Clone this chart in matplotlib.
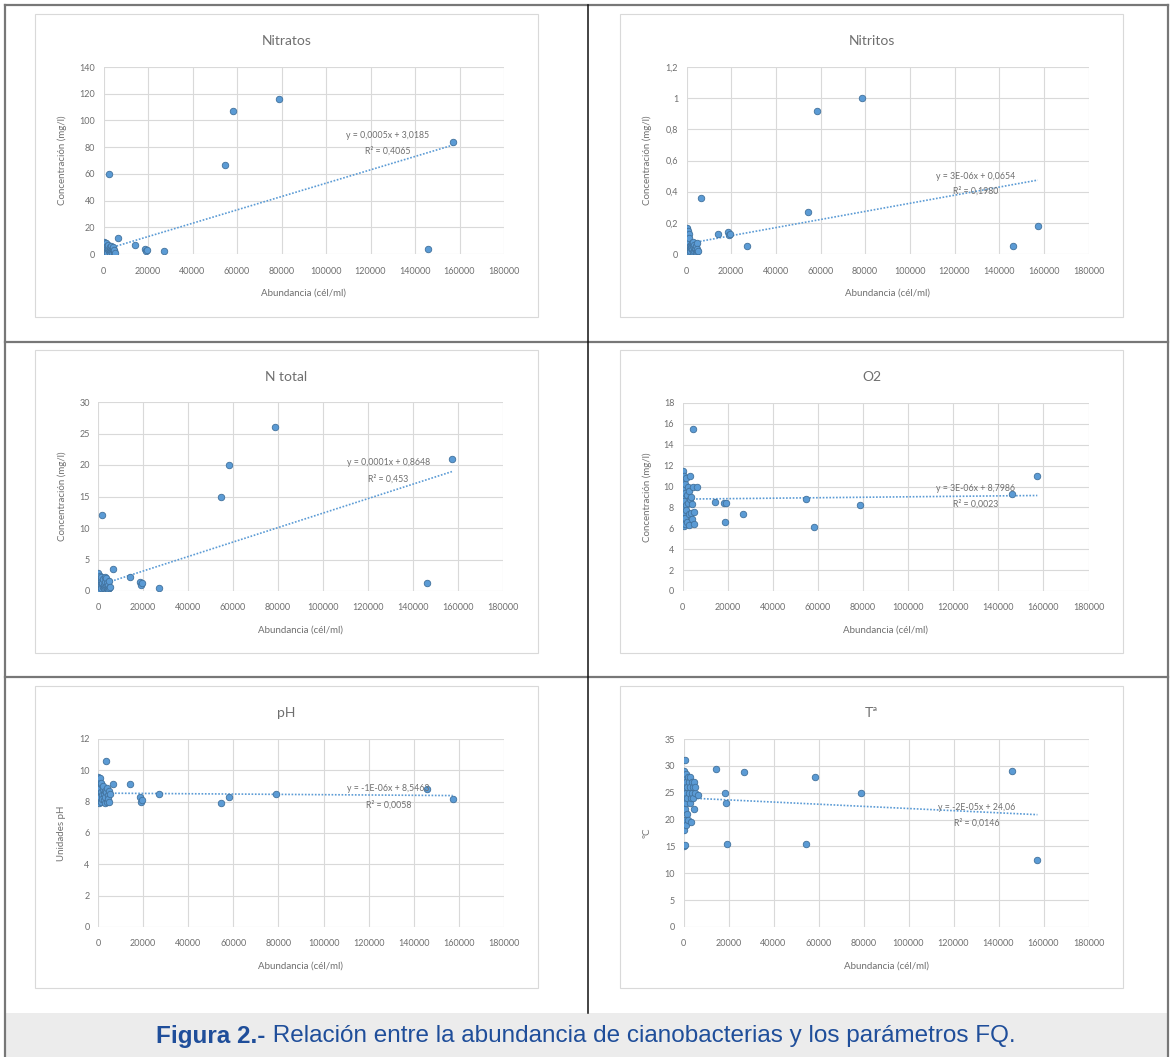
"""Figura 2: abundancia de cianobacterias frente a parámetros FQ (6 paneles)."""

import matplotlib.pyplot as plt
from matplotlib.patches import Rectangle
from matplotlib.lines import Line2D

W, H = 1171, 1057

# abundancia (cél/ml): núcleo de muestras bajas + muestras altas
ABUNDANCIA = [100, 150, 200, 250, 300, 400, 450, 500, 600, 700, 800, 900,
              1000, 1100, 1200, 1300, 1400, 1500, 1700, 1900, 2100, 2300, 2500, 2700,
              2900, 3100, 3300, 3500, 3700, 3900, 4100, 4300, 4500, 4700, 4900, 5200,
              6500, 14300, 18500, 19000, 19500, 27000, 54600, 58300, 78800, 146000, 157300]

NITRATOS = [3, 8, 1, 5, 2, 9, 0.5, 4, 7, 2, 6, 1, 3, 8, 0.5, 5, 2, 6, 1, 4, 7, 2, 60, 3,
            5, 0.5, 6, 2, 4, 1, 3, 5, 2, 1, 3, 1,
            12, 7, 4, 2, 3, 2, 67, 107, 116, 4, 84]
NITRITOS = [0.02, 0.16, 0.05, 0.12, 0.17, 0.09, 0.03, 0.15, 0.06, 0.11, 0.04, 0.13,
            0.07, 0.01, 0.08, 0.10, 0.03, 0.05, 0.02, 0.06, 0.04, 0.07, 0.03, 0.01,
            0.05, 0.08, 0.02, 0.06, 0.03, 0.04, 0.01, 0.05, 0.07, 0.02, 0.03, 0.02,
            0.36, 0.13, 0.14, 0.12, 0.13, 0.05, 0.27, 0.92, 1.0, 0.05, 0.18]
N_TOTAL = [0.5, 2.8, 1.0, 1.5, 0.3, 2.0, 0.8, 1.2, 0.4, 2.4, 1.8, 0.6, 1.1, 0.2, 1.6,
           0.9, 2.2, 0.5, 1.3, 12, 0.7, 1.9, 0.4, 1.0, 2.3, 0.6, 1.4, 0.8, 2.1, 0.5,
           1.2, 0.3, 0.9, 1.6, 0.4, 0.7,
           3.5, 2.2, 1.5, 1.0, 1.2, 0.5, 15, 20, 26, 1.2, 21]
O2 = [11.5, 6.5, 9.0, 7.2, 10.5, 8.0, 6.2, 9.8, 7.6, 11.0, 8.6, 6.8, 10.2, 7.0, 9.4,
      6.4, 8.2, 10.8, 7.8, 9.2, 6.6, 10.0, 8.4, 7.4, 9.6, 6.3, 8.8, 11.0, 7.5, 9.0,
      6.9, 8.3, 15.5, 10.0, 7.6, 6.4,
      10.0, 8.5, 8.4, 6.6, 8.4, 7.4, 8.8, 6.1, 8.2, 9.3, 11.0]
PH = [8.0, 9.6, 8.5, 9.0, 8.2, 8.8, 7.9, 9.3, 8.4, 8.7, 9.5, 8.1, 8.9, 8.3, 9.1, 8.0,
      8.6, 9.2, 8.4, 8.2, 8.8, 9.0, 8.1, 8.5, 8.7, 7.9, 8.3, 8.6, 10.6, 8.9, 8.0, 8.4,
      8.2, 8.7, 8.0, 8.5,
      9.1, 9.1, 8.3, 8.0, 8.1, 8.5, 7.9, 8.3, 8.5, 8.8, 8.2]
TEMPERATURA = [27, 18, 29, 24, 15, 26, 20, 31, 15.2, 28, 22, 25, 19, 27, 23, 28.5, 21,
               26, 24, 28, 20, 27, 25, 23, 26, 28, 24, 19.5, 27, 25, 26, 24, 22, 27, 25, 26,
               24.6, 29.5, 25, 23, 15.5, 28.8, 15.5, 28, 25, 29, 12.5]

TITULOS = ["Nitratos", "Nitritos", "N total", "O2", "pH", "Tª"]
Y_LABELS = ["Concentración (mg/l)"] * 4 + ["Unidades pH", "ºC"]
Y_MAX = [140, 1.2, 30, 18, 12, 35]
Y_STEP = [20, 0.2, 5, 2, 2, 5]
X_TICKS = list(range(0, 180001, 20000))

# líneas de tendencia (Excel)
PENDIENTE = [0.0005, 2.6e-6, 1.15e-4, 2.2e-6, -1e-6, -2e-5]
ORDENADA = [3.0185, 0.0654, 0.8648, 8.7986, 8.5463, 24.06]
ECUACIONES = ["y = 0,0005x + 3,0185", "y = 3E-06x + 0,0654", "y = 0,0001x + 0,8648",
              "y = 3E-06x + 8,7986", "y = -1E-06x + 8,5463", "y = -2E-05x + 24,06"]
R2 = ["R² = 0,4065", "R² = 0,1980", "R² = 0,453", "R² = 0,0023", "R² = 0,0058",
      "R² = 0,0146"]

SERIES = [NITRATOS, NITRITOS, N_TOTAL, O2, PH, TEMPERATURA]

# layout in pixels: plot area (l, r, t, b), chart box (l, r, t, b)
PLOT_BOX = [(103.5, 504, 67, 254), (686.5, 1088.5, 67, 254),
            (98, 503, 402, 591), (682.5, 1088.5, 403, 591),
            (98, 504, 739, 927), (683.5, 1088.5, 739, 927)]
CHART_BOX = [(35, 538, 14, 317), (620, 1123, 14, 317),
             (35, 538, 350, 653), (620, 1123, 350, 653),
             (35, 538, 686, 988), (620, 1123, 686, 988)]
# equation label anchor (data x, y of eq, y of R²)
EQ_POS = [(127600, 89, 77), (129500, 0.50, 0.405), (129000, 20.4, 17.8),
          (129800, 9.85, 8.35), (128700, 8.85, 7.8), (130400, 22.2, 19.4)]

BLUE = "#5b9bd5"
EDGE = "#41719c"
TEXT = "#6f6f6f"
GRID = "#d9d9d9"
FONT = ["Lato", "DejaVu Sans"]

plt.rcParams["font.family"] = FONT


def fmt_num(v):
    s = f"{v:.1f}" if abs(v - round(v)) > 1e-9 else f"{int(round(v))}"
    return s.replace(".", ",")


def px_rect(l, r, t, b):
    return [l / W, 1 - b / H, (r - l) / W, (b - t) / H]


fig = plt.figure(figsize=(W / 100, H / 100), dpi=100)
fig.patch.set_facecolor("white")


# table frame
def fig_line(x0, y0, x1, y1, color, lw):
    fig.add_artist(Line2D([x0 / W, x1 / W], [1 - y0 / H, 1 - y1 / H], color=color,
                          linewidth=lw, transform=fig.transFigure, zorder=5))


fig.add_artist(Rectangle((5 / W, 0), (1168 - 5) / W, (1057 - 1013) / H,
                         transform=fig.transFigure, facecolor="#ececec",
                         edgecolor="none", zorder=0))
fig_line(5, 5, 5, 1057, "#777777", 1.6)
fig_line(5, 5, 1168, 5, "#777777", 1.6)
fig_line(1168, 5, 1168, 1057, "#777777", 1.6)
fig_line(5, 342, 1168, 342, "#777777", 1.6)
fig_line(5, 677, 1168, 677, "#777777", 1.6)
fig_line(587.5, 5, 587.5, 1013, "#111111", 1.1)

for i, ys in enumerate(SERIES):
    cl, cr, ct, cb = CHART_BOX[i]
    fig.add_artist(Rectangle((cl / W, 1 - cb / H), (cr - cl) / W, (cb - ct) / H,
                             transform=fig.transFigure, facecolor="white",
                             edgecolor=GRID, linewidth=0.8, zorder=1))

    l, r, t, b = PLOT_BOX[i]
    ax = fig.add_axes(px_rect(l, r, t, b))
    ax.set_zorder(2)
    ax.set_facecolor("none")

    ax.scatter(ABUNDANCIA, ys, s=22, color=BLUE, edgecolor=EDGE, linewidth=0.6,
               zorder=3)

    xs = [min(ABUNDANCIA), max(ABUNDANCIA)]
    ax.plot(xs, [PENDIENTE[i] * x + ORDENADA[i] for x in xs], color=BLUE,
            linestyle=(0, (1, 1)), linewidth=1.2, zorder=2)

    ex, ey, ry = EQ_POS[i]
    ax.text(ex, ey, ECUACIONES[i], ha="center", va="center", fontsize=6.3, color=TEXT,
            zorder=4)
    ax.text(ex, ry, R2[i], ha="center", va="center", fontsize=6.3, color=TEXT, zorder=4)

    ax.set_xlim(0, 180000)
    ax.set_ylim(0, Y_MAX[i])
    ax.set_xticks(X_TICKS)
    ax.set_xticklabels([str(v) for v in X_TICKS])
    n = int(round(Y_MAX[i] / Y_STEP[i]))
    yt = [k * Y_STEP[i] for k in range(n + 1)]
    ax.set_yticks(yt)
    ax.set_yticklabels([fmt_num(v) for v in yt])
    ax.tick_params(length=0, labelsize=6.5, labelcolor=TEXT)
    ax.tick_params(axis="x", pad=9)
    ax.tick_params(axis="y", pad=6)
    ax.grid(True, color=GRID, linewidth=0.8)
    ax.set_axisbelow(True)
    for sp in ax.spines.values():
        sp.set_visible(False)

    ax.set_xlabel("Abundancia (cél/ml)", fontsize=7, color=TEXT)
    ax.xaxis.set_label_coords(((l + r) / 2) / W, 1 - (b + 39) / H,
                              transform=fig.transFigure)
    ax.xaxis.label.set_va("center")
    ax.set_ylabel(Y_LABELS[i], fontsize=7, color=TEXT)
    ylx = 62 if cl < 300 else 647
    ax.yaxis.set_label_coords(ylx / W, 1 - ((t + b) / 2) / H, transform=fig.transFigure)
    ax.yaxis.label.set_va("center")

    fig.text(((cl + cr) / 2) / W, 1 - (ct + 27) / H, TITULOS[i], ha="center",
             va="center", fontsize=10, color=TEXT)

# caption
cap_font = ["Liberation Sans", "DejaVu Sans"]
t1 = fig.text(0, 1 - 1036 / H, "Figura 2.-", fontsize=17.5, fontweight="bold",
              color="#1f4e9a", va="center", ha="left", family=cap_font)
t2 = fig.text(0, 1 - 1036 / H,
              " Relación entre la abundancia de cianobacterias y los parámetros FQ.",
              fontsize=17.5, color="#1f4e9a", va="center", ha="left", family=cap_font)
renderer = fig.canvas.get_renderer()
w1 = t1.get_window_extent(renderer).width
w2 = t2.get_window_extent(renderer).width
start = 586 - (w1 + w2) / 2
t1.set_x(start / W)
t2.set_x((start + w1) / W)

fig.savefig("out.png", dpi=100)
